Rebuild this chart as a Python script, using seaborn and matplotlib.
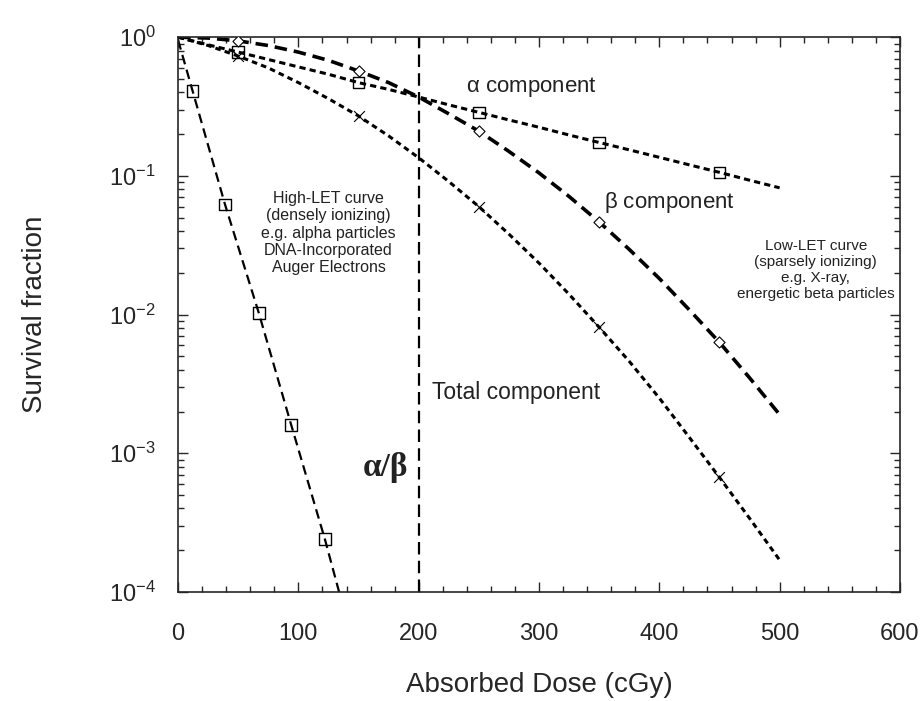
import numpy as np
import pandas as pd
import seaborn as sns
import matplotlib.pyplot as plt
from matplotlib.ticker import MultipleLocator, LogLocator, NullFormatter

# Low-LET components (read at every 25 cGy)
dose = [0, 25, 50, 75, 100, 125, 150, 175, 200, 225, 250,
        275, 300, 325, 350, 375, 400, 425, 450, 475, 500]
alpha_sf = [1.0, 0.88, 0.78, 0.69, 0.61, 0.54, 0.47, 0.42, 0.37, 0.325, 0.287,
            0.253, 0.224, 0.197, 0.174, 0.154, 0.136, 0.12, 0.106, 0.093, 0.082]
beta_sf = [1.0, 0.985, 0.94, 0.87, 0.78, 0.68, 0.57, 0.47, 0.37, 0.28, 0.21,
           0.15, 0.105, 0.071, 0.0465, 0.0295, 0.0182, 0.0108, 0.0063, 0.0035, 0.0019]
total_sf = [1.0, 0.87, 0.73, 0.60, 0.47, 0.36, 0.27, 0.194, 0.135, 0.091, 0.06,
            0.038, 0.0235, 0.014, 0.0081, 0.0046, 0.0025, 0.0013, 0.00067, 0.00034, 0.00017]

# marker positions on the low-LET curves
marker_dose = [50, 150, 250, 350, 450]
alpha_mk = [0.78, 0.47, 0.287, 0.174, 0.106]
beta_mk = [0.94, 0.57, 0.21, 0.0465, 0.0063]
total_mk = [0.73, 0.27, 0.06, 0.0081, 0.00067]

# High-LET curve
high_dose = [0, 12, 39, 67, 94, 122, 136]
high_sf = [0.95, 0.41, 0.062, 0.0103, 0.0016, 0.00024, 0.000085]
high_mk_dose = [12, 39, 67, 94, 122]
high_mk_sf = [0.41, 0.062, 0.0103, 0.0016, 0.00024]

ab_ratio = 200

sns.set_style("ticks")
plt.rcParams['font.family'] = ['Liberation Sans', 'DejaVu Sans']
plt.rcParams['mathtext.default'] = 'regular'
plt.rcParams['lines.scale_dashes'] = False

fig = plt.figure(figsize=(9.23, 7.01), dpi=100)
ax = fig.add_axes([0.193, 0.1555, 0.782, 0.7915])

df = pd.DataFrame({'dose': dose, 'alpha': alpha_sf, 'beta': beta_sf, 'total': total_sf})
styles = {'alpha': (2.2, (4.5, 3)), 'beta': (2.6, (9, 5)), 'total': (2.2, (4, 3))}
for col, (lw, dash) in styles.items():
    sns.lineplot(data=df, x='dose', y=col, ax=ax, color='black', lw=lw)
    ax.lines[-1].set_dashes(dash)

sns.lineplot(x=high_dose, y=high_sf, ax=ax, color='black', lw=1.6)
ax.lines[-1].set_dashes((7, 4))

ax.axvline(ab_ratio, color='black', lw=1.6, dashes=(9, 4.5))

# markers
sns.scatterplot(x=marker_dose, y=alpha_mk, ax=ax, marker='s', s=70,
                facecolor='none', edgecolor='black', linewidth=1.0, zorder=5)
sns.scatterplot(x=marker_dose, y=beta_mk, ax=ax, marker='D', s=32,
                facecolor='white', edgecolor='black', linewidth=0.8, zorder=5)
sns.scatterplot(x=marker_dose, y=total_mk, ax=ax, marker='x', s=60,
                color='black', linewidth=0.8, zorder=5)
sns.scatterplot(x=high_mk_dose, y=high_mk_sf, ax=ax, marker='s', s=70,
                facecolor='none', edgecolor='black', linewidth=1.0, zorder=5)

ax.set_yscale('log')
ax.set_xlim(0, 600)
ax.set_ylim(1e-4, 1)
ax.xaxis.set_major_locator(MultipleLocator(100))
ax.xaxis.set_minor_locator(MultipleLocator(20))
ax.yaxis.set_major_locator(LogLocator(base=10, numticks=10))
ax.yaxis.set_minor_locator(LogLocator(base=10, subs=np.arange(2, 10), numticks=20))
ax.yaxis.set_minor_formatter(NullFormatter())
ax.tick_params(which='both', direction='in', top=True, right=True, labelsize=17, width=1.0)
ax.tick_params(which='major', length=7)
ax.tick_params(axis='x', which='major', pad=22)
ax.tick_params(axis='y', which='major', pad=16)
ax.tick_params(which='minor', length=4)
for sp in ax.spines.values():
    sp.set_linewidth(1.2)

ax.set_xlabel('Absorbed Dose (cGy)', fontsize=20, labelpad=20)
ax.set_ylabel('Survival fraction', fontsize=20, labelpad=44)

txt = '#222222'
ax.text(239, 0.436, r'$\alpha$ component', fontsize=16, color=txt, va='center', ha='left')
ax.text(354, 0.0646, r'$\beta$ component', fontsize=16, color=txt, va='center', ha='left')
ax.text(211, 0.00276, 'Total component', fontsize=16.5, color=txt, va='center', ha='left')
ax.text(172, 7.9e-4, 'α/β', fontsize=24, fontweight='bold', color=txt,
        family='Liberation Serif', va='center', ha='center')
ax.text(125, 0.0387, 'High-LET curve\n(densely ionizing)\ne.g. alpha particles\n'
        'DNA-Incorporated\nAuger Electrons', fontsize=11.5, color=txt,
        ha='center', va='center', linespacing=1.2)
ax.text(530, 0.021, 'Low-LET curve\n(sparsely ionizing)\ne.g. X-ray,\n'
        'energetic beta particles', fontsize=11, color=txt,
        ha='center', va='center', linespacing=1.2)

fig.savefig('out.png', dpi=100)
